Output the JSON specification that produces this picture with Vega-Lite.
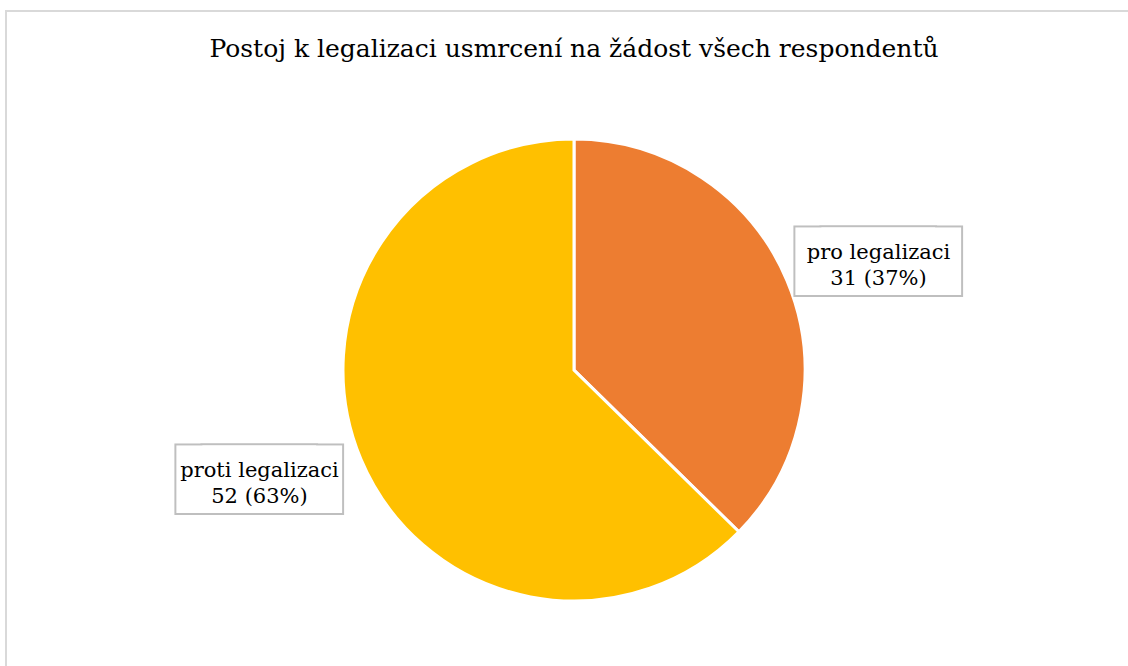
{
  "$schema": "https://vega.github.io/schema/vega-lite/v6.json",
  "width": 1136,
  "height": 718,
  "padding": {"left": 6, "top": 11, "right": 0, "bottom": 0},
  "background": "white",
  "view": {"stroke": "#d9d9d9", "strokeWidth": 2},
  "title": {
    "text": "Postoj k legalizaci usmrcení na žádost všech respondentů",
    "font": "DejaVu Serif",
    "fontSize": 25,
    "fontWeight": "normal",
    "color": "#000000",
    "anchor": "middle",
    "baseline": "alphabetic",
    "offset": -71
  },
  "data": {
    "values": [
      {"odpoved": "pro legalizaci", "pocet": 31, "popis": "pro legalizaci\n31 (37%)"},
      {"odpoved": "proti legalizaci", "pocet": 52, "popis": "proti legalizaci\n52 (63%)"}
    ]
  },
  "encoding": {
    "theta": {"field": "pocet", "type": "quantitative", "stack": true},
    "order": {"field": "odpoved", "sort": "ascending"}
  },
  "layer": [
    {
      "mark": {"type": "arc", "radius": 231, "stroke": "white", "strokeWidth": 3},
      "encoding": {
        "color": {
          "field": "odpoved",
          "type": "nominal",
          "scale": {"domain": ["pro legalizaci", "proti legalizaci"], "range": ["#ED7D31", "#FFC000"]},
          "legend": null
        }
      }
    },
    {
      "mark": {"type": "text", "text": "▬", "font": "DejaVu Sans", "fontSize": 183, "fill": "white", "stroke": "#bfbfbf", "strokeWidth": 4, "radius": 328, "thetaOffset": 0.06, "align": "center", "baseline": "middle", "dx": -18, "dy": -7}
    },
    {
      "mark": {"type": "text", "text": "▬", "font": "DejaVu Sans", "fontSize": 183, "fill": "white", "stroke": "#bfbfbf", "strokeWidth": 4, "radius": 328, "thetaOffset": 0.06, "align": "center", "baseline": "middle", "dx": 8, "dy": -7}
    },
    {
      "mark": {"type": "text", "text": "▬", "font": "DejaVu Sans", "fontSize": 183, "fill": "white", "strokeWidth": 0, "radius": 328, "thetaOffset": 0.06, "align": "center", "baseline": "middle", "dx": -18, "dy": -7}
    },
    {
      "mark": {"type": "text", "text": "▬", "font": "DejaVu Sans", "fontSize": 183, "fill": "white", "strokeWidth": 0, "radius": 328, "thetaOffset": 0.06, "align": "center", "baseline": "middle", "dx": 8, "dy": -7}
    },
    {
      "mark": {
        "type": "text",
        "font": "DejaVu Serif",
        "fontSize": 21,
        "lineBreak": "\n",
        "lineHeight": 26,
        "radius": 328,
        "thetaOffset": 0.06,
        "align": "center",
        "baseline": "middle",
        "dx": -5,
        "dy": -8,
        "color": "#000000"
      },
      "encoding": {"text": {"field": "popis", "type": "nominal"}}
    }
  ]
}
